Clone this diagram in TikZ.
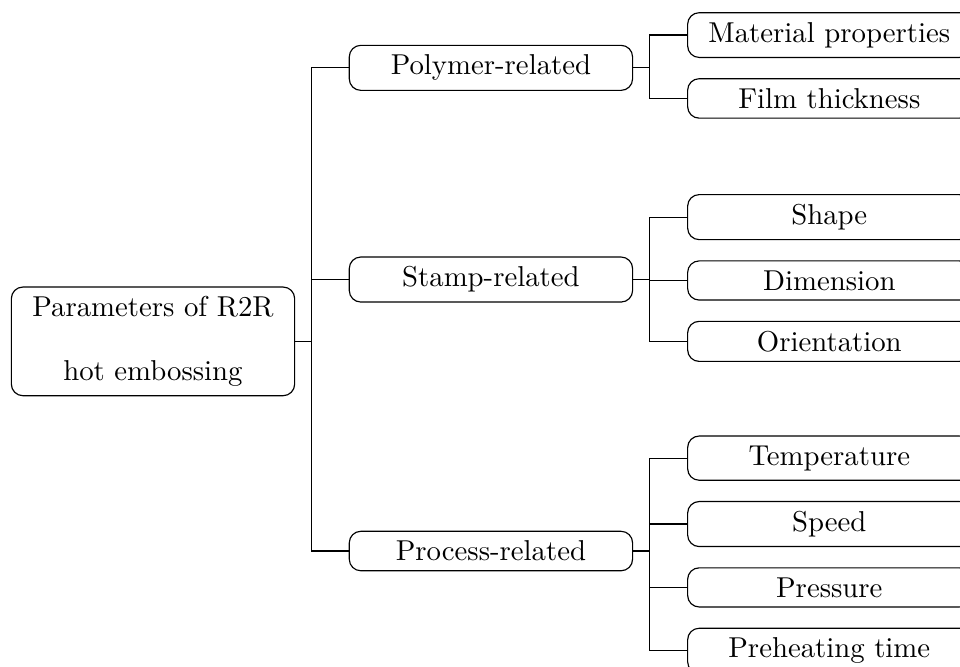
\documentclass[tikz,border=0pt]{standalone}
\usepackage{amsmath}
\usepackage{xcolor}
\usepackage{tikz}
\usetikzlibrary{positioning}

\begin{document}
\begin{tikzpicture}[
  catbox/.style={rectangle, rounded corners, draw=black,
    minimum width=98.5pt, align=center},
  leafbox/.style={catbox},
  conn/.style={draw=black, line width=0.4pt}
]
\useasboundingbox (0,0) rectangle (333.8pt,-231.6pt);
\clip (0,0) rectangle (333.8pt,-231.6pt);

% root
\node[catbox] (root) at (53.2pt,-118.7pt)
  {Parameters of R2R\\[10pt]hot embossing};

% second level
\node[catbox] (poly)  at (170.7pt,-23.6pt)  {Polymer-related};
\node[catbox] (stamp) at (170.7pt,-97.2pt)  {Stamp-related};
\node[catbox] (proc)  at (170.7pt,-191.6pt) {Process-related};

% leaves
\node[leafbox, anchor=west] (mat) at (238.9pt,-12.2pt)
  {Material properties};
\node[leafbox, below=7pt of mat] (film) {Film thickness};

\node[leafbox, anchor=west] (shape) at (238.9pt,-75.5pt) {Shape};
\node[leafbox, below=7pt of shape] (dimen)  {Dimension};
\node[leafbox, below=7pt of dimen]  (orient) {Orientation};

\node[leafbox, anchor=west] (temp) at (238.9pt,-159.3pt)
  {Temperature};
\node[leafbox, below=7pt of temp]  (speed)   {Speed};
\node[leafbox, below=7pt of speed] (press)   {Pressure};
\node[leafbox, below=7pt of press] (preheat) {Preheating time};

% connectors
\foreach \c in {poly, stamp, proc}
  \path[conn] (root.east) -- ++(5.7pt,0) |- (\c.west);
\foreach \c in {mat, film}
  \path[conn] (poly.east) -- ++(5.7pt,0) |- (\c.west);
\foreach \c in {shape, dimen, orient}
  \path[conn] (stamp.east) -- ++(5.7pt,0) |- (\c.west);
\foreach \c in {temp, speed, press, preheat}
  \path[conn] (proc.east) -- ++(5.7pt,0) |- (\c.west);
\end{tikzpicture}
\end{document}
